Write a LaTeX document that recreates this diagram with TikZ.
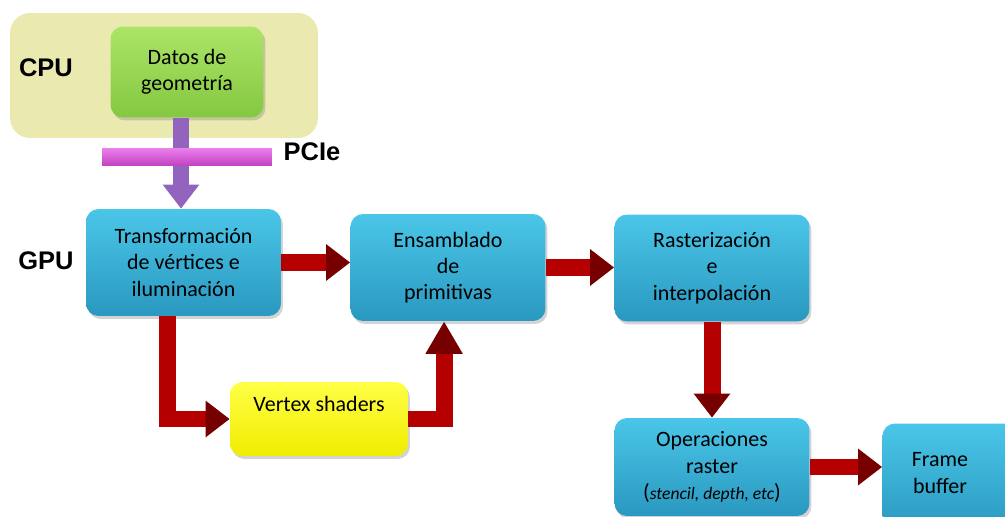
\documentclass[tikz,border=0pt]{standalone}
\usepackage{fontspec}
\setmainfont{Carlito}
\newfontfamily\labelfont{Liberation Sans}
\usetikzlibrary{arrows.meta,shadows,calc}

\definecolor{boxtop}{RGB}{74,198,232}
\definecolor{boxbot}{RGB}{42,152,192}
\definecolor{cpufill}{RGB}{234,234,176}
\definecolor{greentop}{RGB}{172,228,104}
\definecolor{greenbot}{RGB}{132,200,64}
\definecolor{yellowtop}{RGB}{255,255,70}
\definecolor{yellowbot}{RGB}{240,236,0}
\definecolor{pcietop}{RGB}{236,128,236}
\definecolor{pciebot}{RGB}{192,64,192}
\definecolor{flowred}{RGB}{180,0,0}
\definecolor{flowdark}{RGB}{118,0,0}
\definecolor{busviolet}{RGB}{146,100,190}

\tikzset{
  stage/.style={rounded corners=0.25cm, top color=boxtop, bottom color=boxbot,
    minimum width=3.9cm, minimum height=2.14cm, align=center,
    font=\fontsize{12.5}{15}\selectfont,
    drop shadow={opacity=0.35, shadow xshift=0.04cm, shadow yshift=-0.06cm}},
  flow/.style={line width=0.34cm, flowred,
    -{Triangle[width=0.7cm, length=0.48cm, color=flowdark]}},
  tag/.style={font=\labelfont\bfseries\fontsize{14.5}{17}\selectfont}
}

\begin{document}
\begin{tikzpicture}[x=0.02cm, y=-0.02cm]
  \useasboundingbox (0,0) rectangle (1005,517);
  \clip (0,0) rectangle (1005,517);

  \node (cpu) at (164, 75.5) [fill=cpufill, rounded corners=0.4cm,
    minimum width=6.16cm, minimum height=2.5cm] {};
  \node (cpulbl) at (46, 68) [tag] {CPU};
  \node (gpulbl) at (46, 261) [tag] {GPU};
  \node (pcielbl) at (312, 152) [tag] {PCIe};

  \node (datos) at (187, 72) [stage, top color=greentop, bottom color=greenbot,
    minimum width=3.06cm, minimum height=1.82cm] {Datos de\\geometría};

  \node (trans) at (183.5, 262.5) [stage] {Transformación\\de vértices e\\iluminación};
  \node (ens)   at (448, 267.5)   [stage] {Ensamblado\\de\\primitivas};
  \node (rast)  at (712, 268)     [stage] {Rasterización\\e\\interpolación};
  \node (oper)  at (712, 467)     [stage, minimum height=1.96cm]
    {Operaciones\\raster\\({\fontsize{10}{15}\selectfont\itshape stencil, depth, etc\/})};
  \node (frame) at (980, 477)     [stage, label={[align=center, xshift=-0.8cm, yshift=0.08cm,
    font=\fontsize{12.5}{15}\selectfont]center:Frame\\buffer}] {};
  \node (vertex) at (319, 419) [stage, top color=yellowtop, bottom color=yellowbot,
    minimum width=3.56cm, minimum height=1.48cm, text depth=0.6cm] {Vertex shaders};

  % bus from CPU to GPU
  \coordinate (busin) at ($(datos.south)+(-6,0)$);
  \draw [line width=0.34cm, busviolet, -{Triangle[width=0.7cm, length=0.48cm]}]
    (busin) -- (busin |- trans.north);
  \node (pcie) at (187, 157) [top color=pcietop, bottom color=pciebot, inner sep=0pt,
    minimum width=3.4cm, minimum height=0.36cm] {};

  \draw [flow] (trans.east) -- (trans.east -| ens.west);
  \draw [flow] (ens.east) -- (ens.east -| rast.west);
  \draw [flow] (rast.south) -- (oper.north);
  \draw [flow] (oper.east) -- (oper.east -| frame.west);
  \draw [flow] ($(trans.south west)!0.42!(trans.south east)$) |- (vertex.west);
  \draw [flow, -{Triangle[width=0.7cm, length=0.65cm, color=flowdark]}]
    (vertex.east) -| ($(ens.south west)!0.48!(ens.south east)$);
\end{tikzpicture}
\end{document}
